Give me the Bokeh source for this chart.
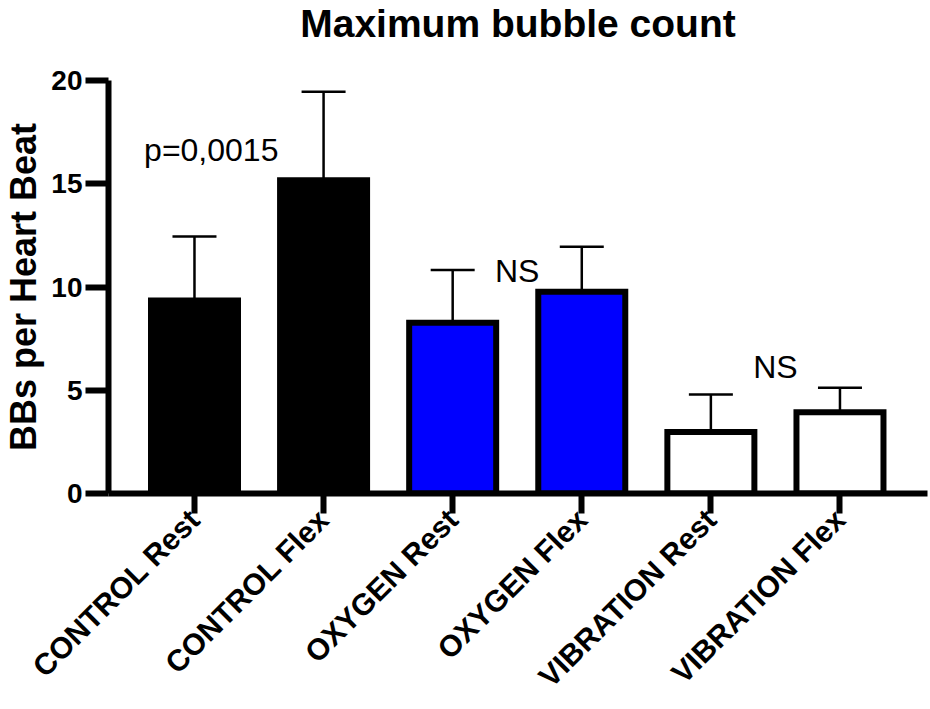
import math
from bokeh.plotting import figure
from bokeh.models import Range1d, FixedTicker, Whisker, ColumnDataSource, Title
from bokeh.core.properties import value
from bokeh.embed import file_html
from bokeh.resources import INLINE

# ---- data ----
categories = ["CONTROL Rest", "CONTROL Flex", "OXYGEN Rest", "OXYGEN Flex",
              "VIBRATION Rest", "VIBRATION Flex"]
means = [9.35, 15.17, 8.27, 9.77, 2.98, 3.93]
errors = [3.09, 4.29, 2.55, 2.18, 1.81, 1.19]
bar_colors = ["#000000", "#000000", "#0000FF", "#0000FF", "#FFFFFF", "#FFFFFF"]
y_ticks = [0, 5, 10, 15, 20]
annot_text = ["p=0,0015", "NS", "NS"]
annot_x = [0.13, 2.5, 4.5]
annot_y = [16.63, 10.79, 6.11]
title_text = "Maximum bubble count"
y_label = "BBs per Heart Beat"

FONT = "Liberation Sans"

xpos = list(range(len(categories)))
uppers = [m + e for m, e in zip(means, errors)]
src = ColumnDataSource(dict(x=xpos, top=means, upper=uppers, color=bar_colors))

p = figure(width=930, height=709, output_backend="svg", toolbar_location=None,
           x_range=Range1d(-0.666, 5.678), y_range=Range1d(0, 20),
           min_border_left=108, min_border_right=3, min_border_top=80,
           min_border_bottom=216)
p.outline_line_color = None
p.xgrid.visible = False
p.ygrid.visible = False
p.background_fill_color = "white"
p.border_fill_color = "white"

# spacer between frame and title, then the title itself (outermost)
p.add_layout(Title(text=" ", text_font_size="1px", standoff=31), "above")
p.add_layout(Title(text=title_text, align="center", vertical_align="top",
                   standoff=0, text_font=FONT, text_font_size="39px",
                   text_font_style="bold", text_color="black"), "above")

p.vbar(x="x", width=0.674, top="top", bottom=0, source=src, fill_color="color",
       line_color="black", line_width=6, line_join="miter")

wh = Whisker(base="x", lower="top", upper="upper", source=src, dimension="height",
             line_color="black", line_width=2.5, lower_head=None)
wh.upper_head.size = 44
wh.upper_head.line_width = 2.5
wh.upper_head.line_color = "black"
p.add_layout(wh)

p.text(x=annot_x, y=annot_y, text=annot_text, text_font=value(FONT),
       text_font_size="32px", text_align="center", text_baseline="alphabetic",
       text_color="black")

# y axis
ya = p.yaxis[0]
ya.ticker = FixedTicker(ticks=y_ticks)
ya.minor_tick_line_color = None
ya.axis_line_width = 6
ya.major_tick_line_width = 6
ya.major_tick_out = 23
ya.major_tick_in = 0
ya.major_label_standoff = 3
ya.major_label_text_font = FONT
ya.major_label_text_font_size = "28px"
ya.major_label_text_font_style = "bold"
ya.major_label_text_color = "black"
ya.axis_label = y_label
ya.axis_label_text_font = FONT
ya.axis_label_text_font_size = "36px"
ya.axis_label_text_font_style = "bold"
ya.axis_label_text_color = "black"
ya.axis_label_standoff = 4

# x axis
xa = p.xaxis[0]
xa.ticker = FixedTicker(ticks=xpos)
xa.major_label_overrides = {i: c for i, c in zip(xpos, categories)}
xa.minor_tick_line_color = None
xa.axis_line_width = 6
xa.major_tick_line_width = 6
xa.major_tick_out = 20
xa.major_tick_in = 0
xa.major_label_standoff = 1
xa.major_label_orientation = math.pi / 4
xa.major_label_text_font = FONT
xa.major_label_text_font_size = "30px"
xa.major_label_text_font_style = "bold"
xa.major_label_text_color = "black"

open("out.html", "w").write(file_html(p, INLINE))
